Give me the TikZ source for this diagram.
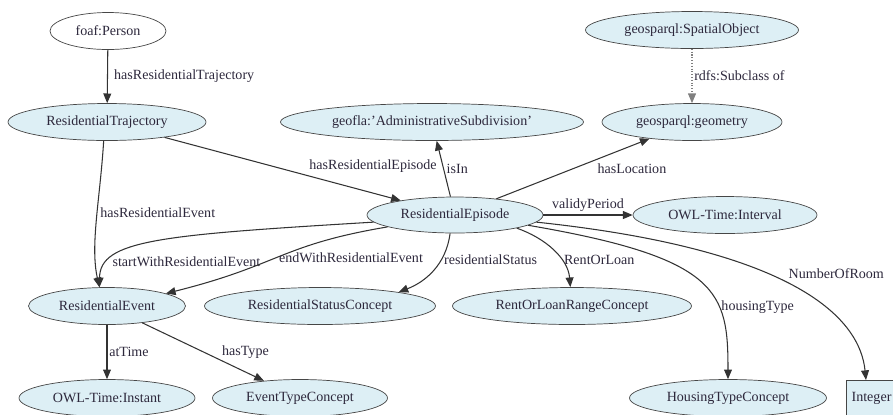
\documentclass[tikz,border=0pt]{standalone}
\usepackage{fontspec}
\setmainfont{Liberation Serif}
\usetikzlibrary{arrows.meta,shapes.geometric}
\definecolor{conceptfill}{RGB}{221,239,245}
\definecolor{inkline}{RGB}{70,70,70}
\definecolor{inktext}{RGB}{45,40,60}
\begin{document}
\begin{tikzpicture}[x=0.02cm,y=-0.02cm,
    concept/.style={ellipse,draw=inkline,fill=conceptfill,text=inktext,inner sep=0pt,
      font=\fontsize{8}{9.6}\selectfont,minimum width=#1*0.02cm,minimum height=0.74cm},
    person/.style={concept=#1,fill=white},
    literal/.style={rectangle,draw=inkline,fill=conceptfill,text=inktext,inner xsep=2pt,
      font=\fontsize{8}{9.6}\selectfont,minimum height=0.74cm,anchor=north west},
    link/.style={draw=black!80,line width=0.6pt,-{Triangle[length=5.5pt,width=4.5pt]}},
    lbl/.style={text=inktext,inner sep=1.5pt,font=\fontsize{8}{9.6}\selectfont}]
  \useasboundingbox (0,0) rectangle (893,414);

  \node[person=116] (person) at (108,31) {foaf:Person};
  \node[concept=198] (traj) at (107,122) {ResidentialTrajectory};
  \node[concept=303] (geofla) at (432,122) {geofla:'AdministrativeSubdivision'};
  \node[concept=213] (spatial) at (692,30) {geosparql:SpatialObject};
  \node[concept=180] (geom) at (692,122) {geosparql:geometry};
  \node[concept=176,minimum height=0.72cm] (episode) at (455,215) {ResidentialEpisode};
  \node[concept=184] (interval) at (725,215) {OWL-Time:Interval};
  \node[concept=157] (event) at (107,306) {ResidentialEvent};
  \node[concept=231] (status) at (320,306) {ResidentialStatusConcept};
  \node[concept=239] (rentloan) at (572,306) {RentOrLoanRangeConcept};
  \node[concept=176] (instant) at (107,398) {OWL-Time:Instant};
  \node[concept=175] (evtype) at (300,398) {EventTypeConcept};
  \node[concept=197] (housing) at (728,398) {HousingTypeConcept};
  \node[literal,inner xsep=3pt] (integer) at (846,380) {Integer};
  \coordinate (intin) at ([xshift=0.4cm]integer.north west);

  \draw[link] (person) -- node[lbl,right=2pt] {hasResidentialTrajectory} (traj);
  \draw[link] (traj) -- node[lbl,pos=0.6,anchor=south west] {hasResidentialEpisode} (episode);
  \draw[link] (episode) -- node[lbl,right] {isIn} (geofla);
  \draw[link] (episode) -- node[lbl,pos=0.64,anchor=north west] {hasLocation} (geom);
  \draw[link,densely dotted,draw=gray] (spatial) -- node[lbl,right,inner sep=1pt] {rdfs:Subclass of} (geom);
  \draw[link] (episode) -- node[lbl,above] {validyPeriod} (interval);

  \draw[link] (traj.260) .. controls (100,200) and (90,245) .. node[lbl,pos=0.45,anchor=west] {hasResidentialEvent} (event.112);
  \draw[link] (episode.185) .. controls (160,235) and (100,240) .. node[lbl,pos=0.78,anchor=west] {startWithResidentialEvent} (event.112);
  \draw[link] (episode.190) .. controls (280,245) and (280,265) .. node[lbl,pos=0.52,anchor=west] {endWithResidentialEvent} (event.12);
  \draw[link] (episode.255) .. controls (446,265) and (425,282) .. node[lbl,pos=0.33,anchor=west] {residentialStatus} (status.10);
  \draw[link] (episode.-12) .. controls (545,238) and (568,258) .. node[lbl,pos=0.65,anchor=west] {RentOrLoan} (rentloan.95);
  \draw[link] (episode.-8) .. controls (720,258) and (728,292) .. node[lbl,pos=0.66,anchor=west] {housingType} (housing.north);
  \draw[link] (episode.-5) .. controls (800,250) and (860,320) .. node[lbl,pos=0.46,anchor=south west] {NumberOfRoom} (intin);

  \draw[link] (event) -- node[lbl,right,inner sep=1pt] {atTime} (instant);
  \draw[link] (event) -- node[lbl,right=9pt] {hasType} (evtype);
\end{tikzpicture}
\end{document}
